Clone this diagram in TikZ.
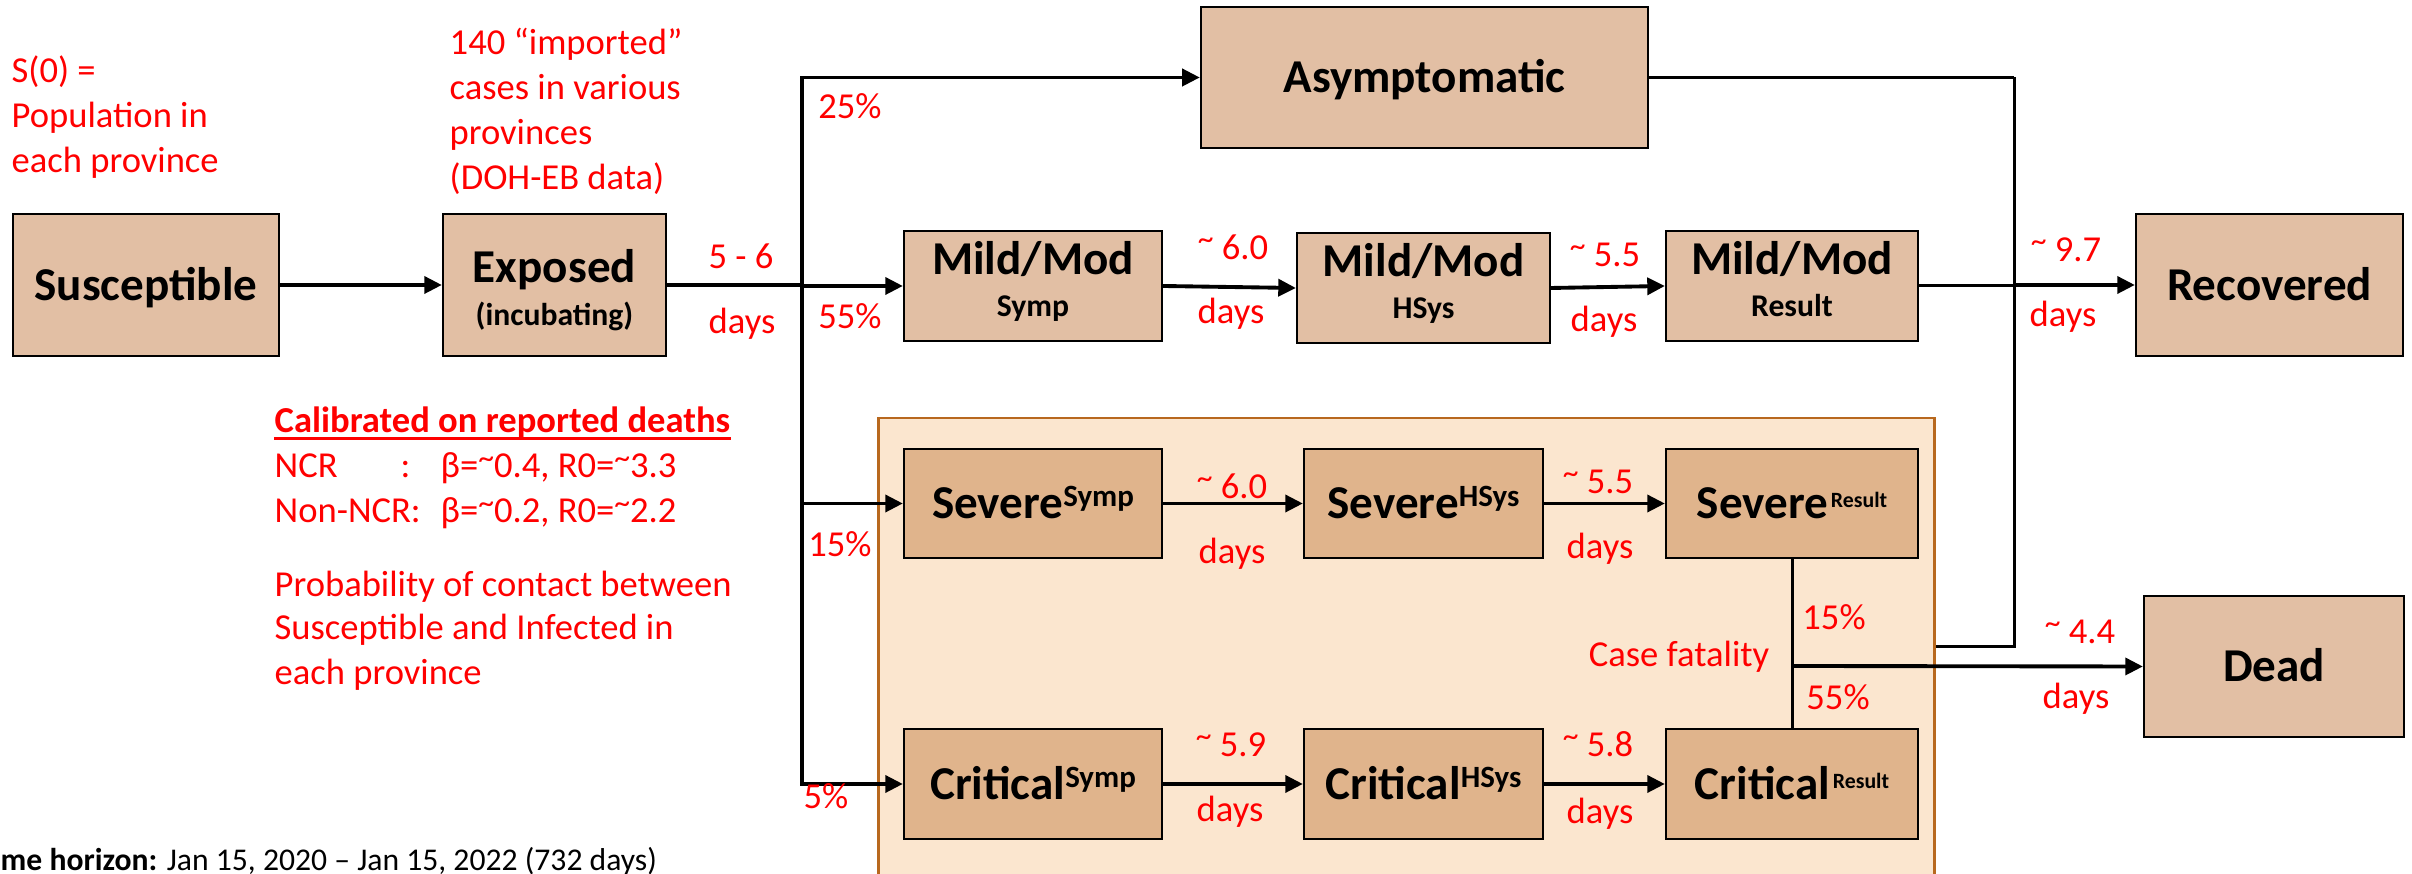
\documentclass[tikz,border=0pt]{standalone}
\usepackage{fontspec}
\setmainfont{Carlito}
\usetikzlibrary{arrows.meta}
\definecolor{boxA}{HTML}{E2BFA4}
\definecolor{boxB}{HTML}{E0B48C}
\definecolor{panelfill}{HTML}{FBE6CF}
\definecolor{paneledge}{HTML}{B8681E}
\definecolor{myred}{HTML}{FF0000}
\newcommand\supsymp[1]{\raisebox{3.4pt}{\fontsize{8.8pt}{10pt}\selectfont #1}}
\newcommand\supres[1]{\hspace{0.8pt}\raisebox{3.1pt}{\fontsize{6.2pt}{8pt}\selectfont #1}}
\newcommand\tld{\raisebox{2.8pt}{\fontsize{9pt}{9pt}\selectfont\textasciitilde}}
\newcommand\tl{\tld\ }
\begin{document}
\begin{tikzpicture}[x=0.01cm,y=-0.01cm,
  boxa/.style={draw=black, line width=0.6pt, fill=boxA, inner sep=0pt, rectangle},
  boxb/.style={boxa, fill=boxB},
  ttl/.style={font=\fontsize{13.4pt}{16pt}\selectfont\bfseries, text height=8.6pt, text depth=0pt, inner sep=0pt},
  sub/.style={font=\fontsize{9pt}{11pt}\selectfont\bfseries, text height=5.8pt, text depth=0pt, inner sep=0pt},
  lab/.style={text=myred, font=\fontsize{10.4pt}{12.8pt}\selectfont, text height=6.7pt, text depth=0pt, inner sep=0pt},
  note/.style={text=myred, font=\fontsize{10.4pt}{12.8pt}\selectfont, anchor=base west, inner sep=0pt},
  arr/.style={line width=1.1pt, -{Triangle[length=5pt,width=4.8pt]}},
  ln/.style={line width=1.1pt},
  lnt/.style={line width=0.85pt},
]
\useasboundingbox (0,0) rectangle (2412,874);
\clip (0,0) rectangle (2412,874);

% panel
\node[draw=paneledge, line width=0.7pt, fill=panelfill, rectangle, inner sep=0pt,
      minimum width=10.55cm, minimum height=5.32cm] (panel) at (1406.5,684) {};

% boxes
\node[boxa, ttl, minimum width=2.66cm, minimum height=1.42cm] (sus) at (146,285) {Susceptible};
\node[boxa, minimum width=2.23cm, minimum height=1.42cm] (exp) at (554.5,285) {};
\node[ttl] (expt) at (554.5,267.5) {Exposed};
\node[sub] (exps) at (554.5,315) {(incubating)};
\node[boxa, ttl, minimum width=4.47cm, minimum height=1.41cm] (asym) at (1424.5,77.5) {Asymptomatic};

\node[boxa, minimum width=2.58cm, minimum height=1.10cm] (m1) at (1033,286) {};
\node[ttl] (m1t) at (1033,259) {Mild/Mod};
\node[sub] (m1s) at (1033,306.5) {Symp};
\node[boxa, minimum width=2.53cm, minimum height=1.10cm] (m2) at (1423.5,288) {};
\node[ttl] (m2t) at (1423.5,261) {Mild/Mod};
\node[sub] (m2s) at (1423.5,308.5) {HSys};
\node[boxa, minimum width=2.52cm, minimum height=1.10cm] (m3) at (1792,286) {};
\node[ttl] (m3t) at (1792,259) {Mild/Mod};
\node[sub] (m3s) at (1792,306.5) {Result};
\node[boxa, ttl, minimum width=2.67cm, minimum height=1.42cm] (rec) at (2269.5,285) {Recovered};

\node[boxb, ttl, minimum width=2.58cm, minimum height=1.09cm] (s1) at (1033,503.5) {Severe\supsymp{Symp}};
\node[boxb, ttl, minimum width=2.39cm, minimum height=1.09cm] (s2) at (1423.5,503.5) {Severe\supsymp{HSys}};
\node[boxb, ttl, minimum width=2.52cm, minimum height=1.09cm] (s3) at (1792,503.5) {Severe\supres{Result}};
\node[boxb, ttl, minimum width=2.58cm, minimum height=1.10cm] (c1) at (1033,784) {Critical\supsymp{Symp}};
\node[boxb, ttl, minimum width=2.39cm, minimum height=1.10cm] (c2) at (1423.5,784) {Critical\supsymp{HSys}};
\node[boxb, ttl, minimum width=2.52cm, minimum height=1.10cm] (c3) at (1792,784) {Critical\supres{Result}};
\node[boxa, ttl, minimum width=2.60cm, minimum height=1.41cm] (dead) at (2274,666.5) {Dead};

% connectors
\coordinate (sp) at (802,285);
\draw[arr] (sus.east) -- (exp.west);
\draw[ln] (exp.east) -- (sp);
\draw[arr] (sp) |- (asym.west);
\draw[arr] (sp |- m1.west) -- (m1.west);
\draw[arr] (sp) |- (c1.west);
\draw[arr] (sp |- s1.west) -- (s1.west);
\draw[arr] (m1.east) -- (m2.west);
\draw[arr] (m2.east) -- (m3.west);
\draw[arr] (s1.east) -- (s2.west);
\draw[arr] (s2.east) -- (s3.west);
\draw[arr] (c1.east) -- (c2.west);
\draw[arr] (c2.east) -- (c3.west);
\coordinate (rx) at (2014,286);
\coordinate (pj) at (2014,647);
\draw[lnt] (m3.east) -- (rx);
\draw[arr] (rx |- rec.west) -- (rec.west);
\draw[ln] (asym.east) -- (asym.east -| rx);
\draw[lnt] (asym.east -| rx) -- (pj) -- (pj -| panel.east);
\coordinate (cfj) at (1792,666);
\draw[lnt] (s3.south) -- (c3.north);
\draw[arr] (cfj) -- (dead.west);

% red labels
\node[lab] (e56) at (741,257) {5 - 6};
\node[lab] (ed) at (742,322) {days};
\node[lab] (p25) at (850,107) {25\%};
\node[lab] (p55) at (850,317) {55\%};
\node[lab] (p15) at (840,545) {15\%};
\node[lab] (p5) at (826,797) {5\%};
\node[lab] (m1l) at (1233,248) {\tl 6.0};
\node[lab] (m1d) at (1231,312) {days};
\node[lab] (m2l) at (1605,255) {\tl 5.5};
\node[lab] (m2d) at (1604,320) {days};
\node[lab] (m3l) at (2066,250) {\tl 9.7};
\node[lab] (m3d) at (2063,315) {days};
\node[lab] (s1l) at (1232,487) {\tl 6.0};
\node[lab] (s1d) at (1232,552) {days};
\node[lab] (s2l) at (1598,482) {\tl 5.5};
\node[lab] (s2d) at (1600,547) {days};
\node[lab] (c1l) at (1231,745) {\tl 5.9};
\node[lab] (c1d) at (1230,810) {days};
\node[lab] (c2l) at (1598,745) {\tl 5.8};
\node[lab] (c2d) at (1600,812) {days};
\node[lab] (f15) at (1834,618) {15\%};
\node[lab] (cfl) at (1679,655) {Case fatality};
\node[lab] (f55) at (1838,698) {55\%};
\node[lab] (d44) at (2080,632) {\tl 4.4};
\node[lab] (d44d) at (2076,697) {days};

% notes
\node[note] (a1) at (11,83) {S(0) =};
\node[note] (a2) at (11,128) {Population in};
\node[note] (a3) at (11,173) {each province};
\node[note] (b1) at (449,55) {140 “imported”};
\node[note] (b2) at (449,100) {cases in various};
\node[note] (b3) at (449,145) {provinces};
\node[note] (b4) at (449,190) {(DOH-EB data)};
\node[note, font=\fontsize{10.4pt}{12.8pt}\selectfont\bfseries] (cal) at (274,433) {Calibrated on reported deaths};
\draw[myred, line width=0.85pt] ([yshift=-1.5pt]cal.base west) -- ([yshift=-1.5pt]cal.base east);
\node[note] (n1) at (274,478) {NCR};
\node[note] (n1c) at (400,478) {:};
\node[note] (n1v) at (440,478) {β=\tld0.4, R0=\tld3.3};
\node[note] (n2) at (274,523) {Non-NCR:};
\node[note] (n2v) at (440,523) {β=\tld0.2, R0=\tld2.2};
\node[note] (q1) at (274,597) {Probability of contact between};
\node[note] (q2) at (274,640) {Susceptible and Infected in};
\node[note] (q3) at (274,685) {each province};
\node[note, text=black, font=\fontsize{9pt}{11pt}\selectfont] (th) at (0,871) {\textbf{me horizon:} Jan 15, 2020 – Jan 15, 2022 (732 days)};
\end{tikzpicture}
\end{document}
